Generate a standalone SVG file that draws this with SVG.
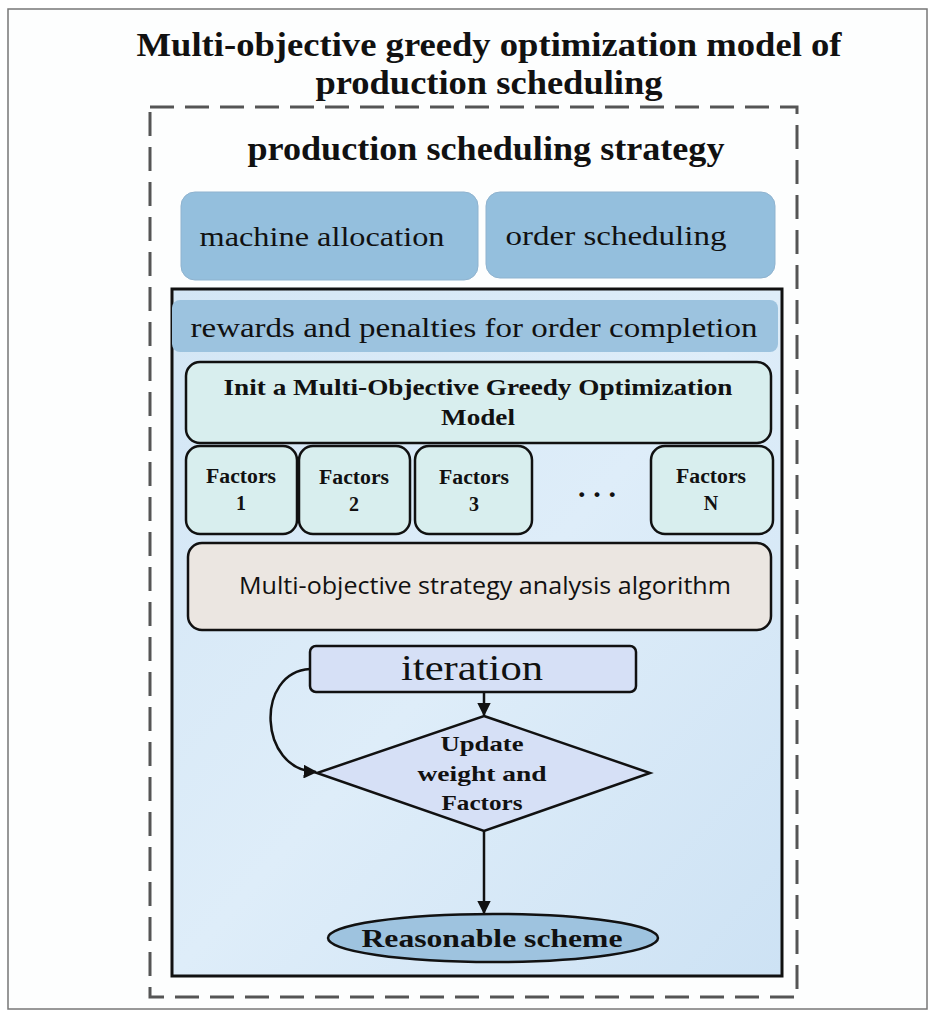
<svg xmlns="http://www.w3.org/2000/svg" width="936" height="1018" viewBox="0 0 936 1018">
<defs>
<linearGradient id="bg" x1="0" y1="0" x2="1" y2="1">
<stop offset="0" stop-color="#d3e6f5"/>
<stop offset="0.5" stop-color="#deedf9"/>
<stop offset="1" stop-color="#cde2f4"/>
</linearGradient>
<marker id="arr" viewBox="0 0 10 10" refX="9" refY="5" markerWidth="5.5" markerHeight="5.5" orient="auto-start-reverse">
<path d="M0,0 L10,5 L0,10 z" fill="#111"/>
</marker>
</defs>
<style>
.serif{font-family:"Liberation Serif","DejaVu Serif",serif;fill:#111;text-anchor:middle}
.b{font-weight:bold}
.box{stroke:#111;stroke-width:2.5}
.soft{stroke:#8fb3cf;stroke-width:1}
</style>
<rect x="0" y="0" width="936" height="1018" fill="#ffffff"/>
<rect x="8" y="9" width="919" height="1000" fill="#fdfefe" stroke="#777" stroke-width="1.5"/>
<g id="title">
<text class="serif b" x="489" y="56" font-size="33" textLength="705" lengthAdjust="spacingAndGlyphs">Multi-objective greedy optimization model of</text>
<text class="serif b" x="489" y="94" font-size="33" textLength="347" lengthAdjust="spacingAndGlyphs">production scheduling</text>
</g>
<g id="strategy-frame">
<rect x="150" y="107" width="647" height="890" fill="none" stroke="#555" stroke-width="3" stroke-dasharray="24,11"/>
<text class="serif b" x="486" y="160" font-size="34" textLength="477" lengthAdjust="spacingAndGlyphs">production scheduling strategy</text>
</g>
<g id="machine-allocation">
<rect x="181" y="192" width="297" height="88" rx="14" fill="#94bfdd" class="soft"/>
<text class="serif" x="322" y="246" font-size="27" textLength="245" lengthAdjust="spacingAndGlyphs">machine allocation</text>
</g>
<g id="order-scheduling">
<rect x="486" y="192" width="289" height="86" rx="14" fill="#94bfdd" class="soft"/>
<text class="serif" x="616" y="245" font-size="27" textLength="221" lengthAdjust="spacingAndGlyphs">order scheduling</text>
</g>
<g id="inner-frame">
<rect x="172" y="289" width="610" height="687" fill="url(#bg)" stroke="#111" stroke-width="3"/>
</g>
<g id="rewards">
<rect x="172" y="300" width="606" height="52" rx="8" fill="#9cc3df"/>
<text class="serif" x="474" y="337" font-size="27" textLength="567" lengthAdjust="spacingAndGlyphs">rewards and penalties for order completion</text>
</g>
<g id="init-model">
<rect x="186" y="362" width="585" height="81" rx="14" fill="#d8eeee" class="box"/>
<text class="serif b" x="478" y="395" font-size="23" textLength="509" lengthAdjust="spacingAndGlyphs">Init a Multi-Objective Greedy Optimization</text>
<text class="serif b" x="478" y="425" font-size="23" textLength="74" lengthAdjust="spacingAndGlyphs">Model</text>
</g>
<g id="factors-1">
<rect x="186" y="446" width="111" height="88" rx="14" fill="#d8eeee" class="box"/>
<text class="serif b" x="241" y="483" font-size="20" textLength="70" lengthAdjust="spacingAndGlyphs">Factors</text>
<text class="serif b" x="241" y="510" font-size="20">1</text>
</g>
<g id="factors-2">
<rect x="299" y="446" width="111" height="88" rx="14" fill="#d8eeee" class="box"/>
<text class="serif b" x="354" y="484" font-size="20" textLength="70" lengthAdjust="spacingAndGlyphs">Factors</text>
<text class="serif b" x="354" y="511" font-size="20">2</text>
</g>
<g id="factors-3">
<rect x="415" y="446" width="117" height="88" rx="14" fill="#d8eeee" class="box"/>
<text class="serif b" x="474" y="484" font-size="20" textLength="70" lengthAdjust="spacingAndGlyphs">Factors</text>
<text class="serif b" x="474" y="511" font-size="20">3</text>
</g>
<g id="ellipsis">
<text class="serif b" x="597" y="497" font-size="30" textLength="38" lengthAdjust="spacing">...</text>
</g>
<g id="factors-n">
<rect x="651" y="446" width="122" height="88" rx="14" fill="#d8eeee" class="box"/>
<text class="serif b" x="711" y="483" font-size="20" textLength="70" lengthAdjust="spacingAndGlyphs">Factors</text>
<text class="serif b" x="711" y="510" font-size="20">N</text>
</g>
<g id="analysis">
<rect x="188" y="543" width="583" height="87" rx="14" fill="#ebe6e1" class="box"/>
<text x="485" y="594" font-size="23" font-family="'Open Sans','DejaVu Sans',sans-serif" fill="#111" text-anchor="middle" textLength="492" lengthAdjust="spacingAndGlyphs">Multi-objective strategy analysis algorithm</text>
</g>
<g id="iteration">
<rect x="310" y="646" width="326" height="46" rx="6" fill="#d6e0f6" class="box"/>
<text class="serif" x="472" y="680" font-size="35" textLength="142" lengthAdjust="spacingAndGlyphs">iteration</text>
</g>
<g id="update">
<polygon points="484,716 650,773 484,831 317,773" fill="#d6e0f6" class="box" stroke-linejoin="miter"/>
<text class="serif b" x="482" y="751" font-size="22" textLength="83" lengthAdjust="spacingAndGlyphs">Update</text>
<text class="serif b" x="482" y="781" font-size="22" textLength="129" lengthAdjust="spacingAndGlyphs">weight and</text>
<text class="serif b" x="482" y="810" font-size="22" textLength="81" lengthAdjust="spacingAndGlyphs">Factors</text>
</g>
<g id="scheme">
<ellipse cx="493" cy="938" rx="165" ry="24" fill="#9ec3df" class="box"/>
<text class="serif b" x="492" y="947" font-size="26" textLength="261" lengthAdjust="spacingAndGlyphs">Reasonable scheme</text>
</g>
<g id="connectors" fill="none" stroke="#111" stroke-width="2.5">
<line x1="484" y1="692" x2="484" y2="715" marker-end="url(#arr)"/>
<path d="M310,669 C255,672 258,770 316,772" marker-end="url(#arr)"/>
<line x1="484" y1="831" x2="484" y2="913" marker-end="url(#arr)"/>
</g>
</svg>
